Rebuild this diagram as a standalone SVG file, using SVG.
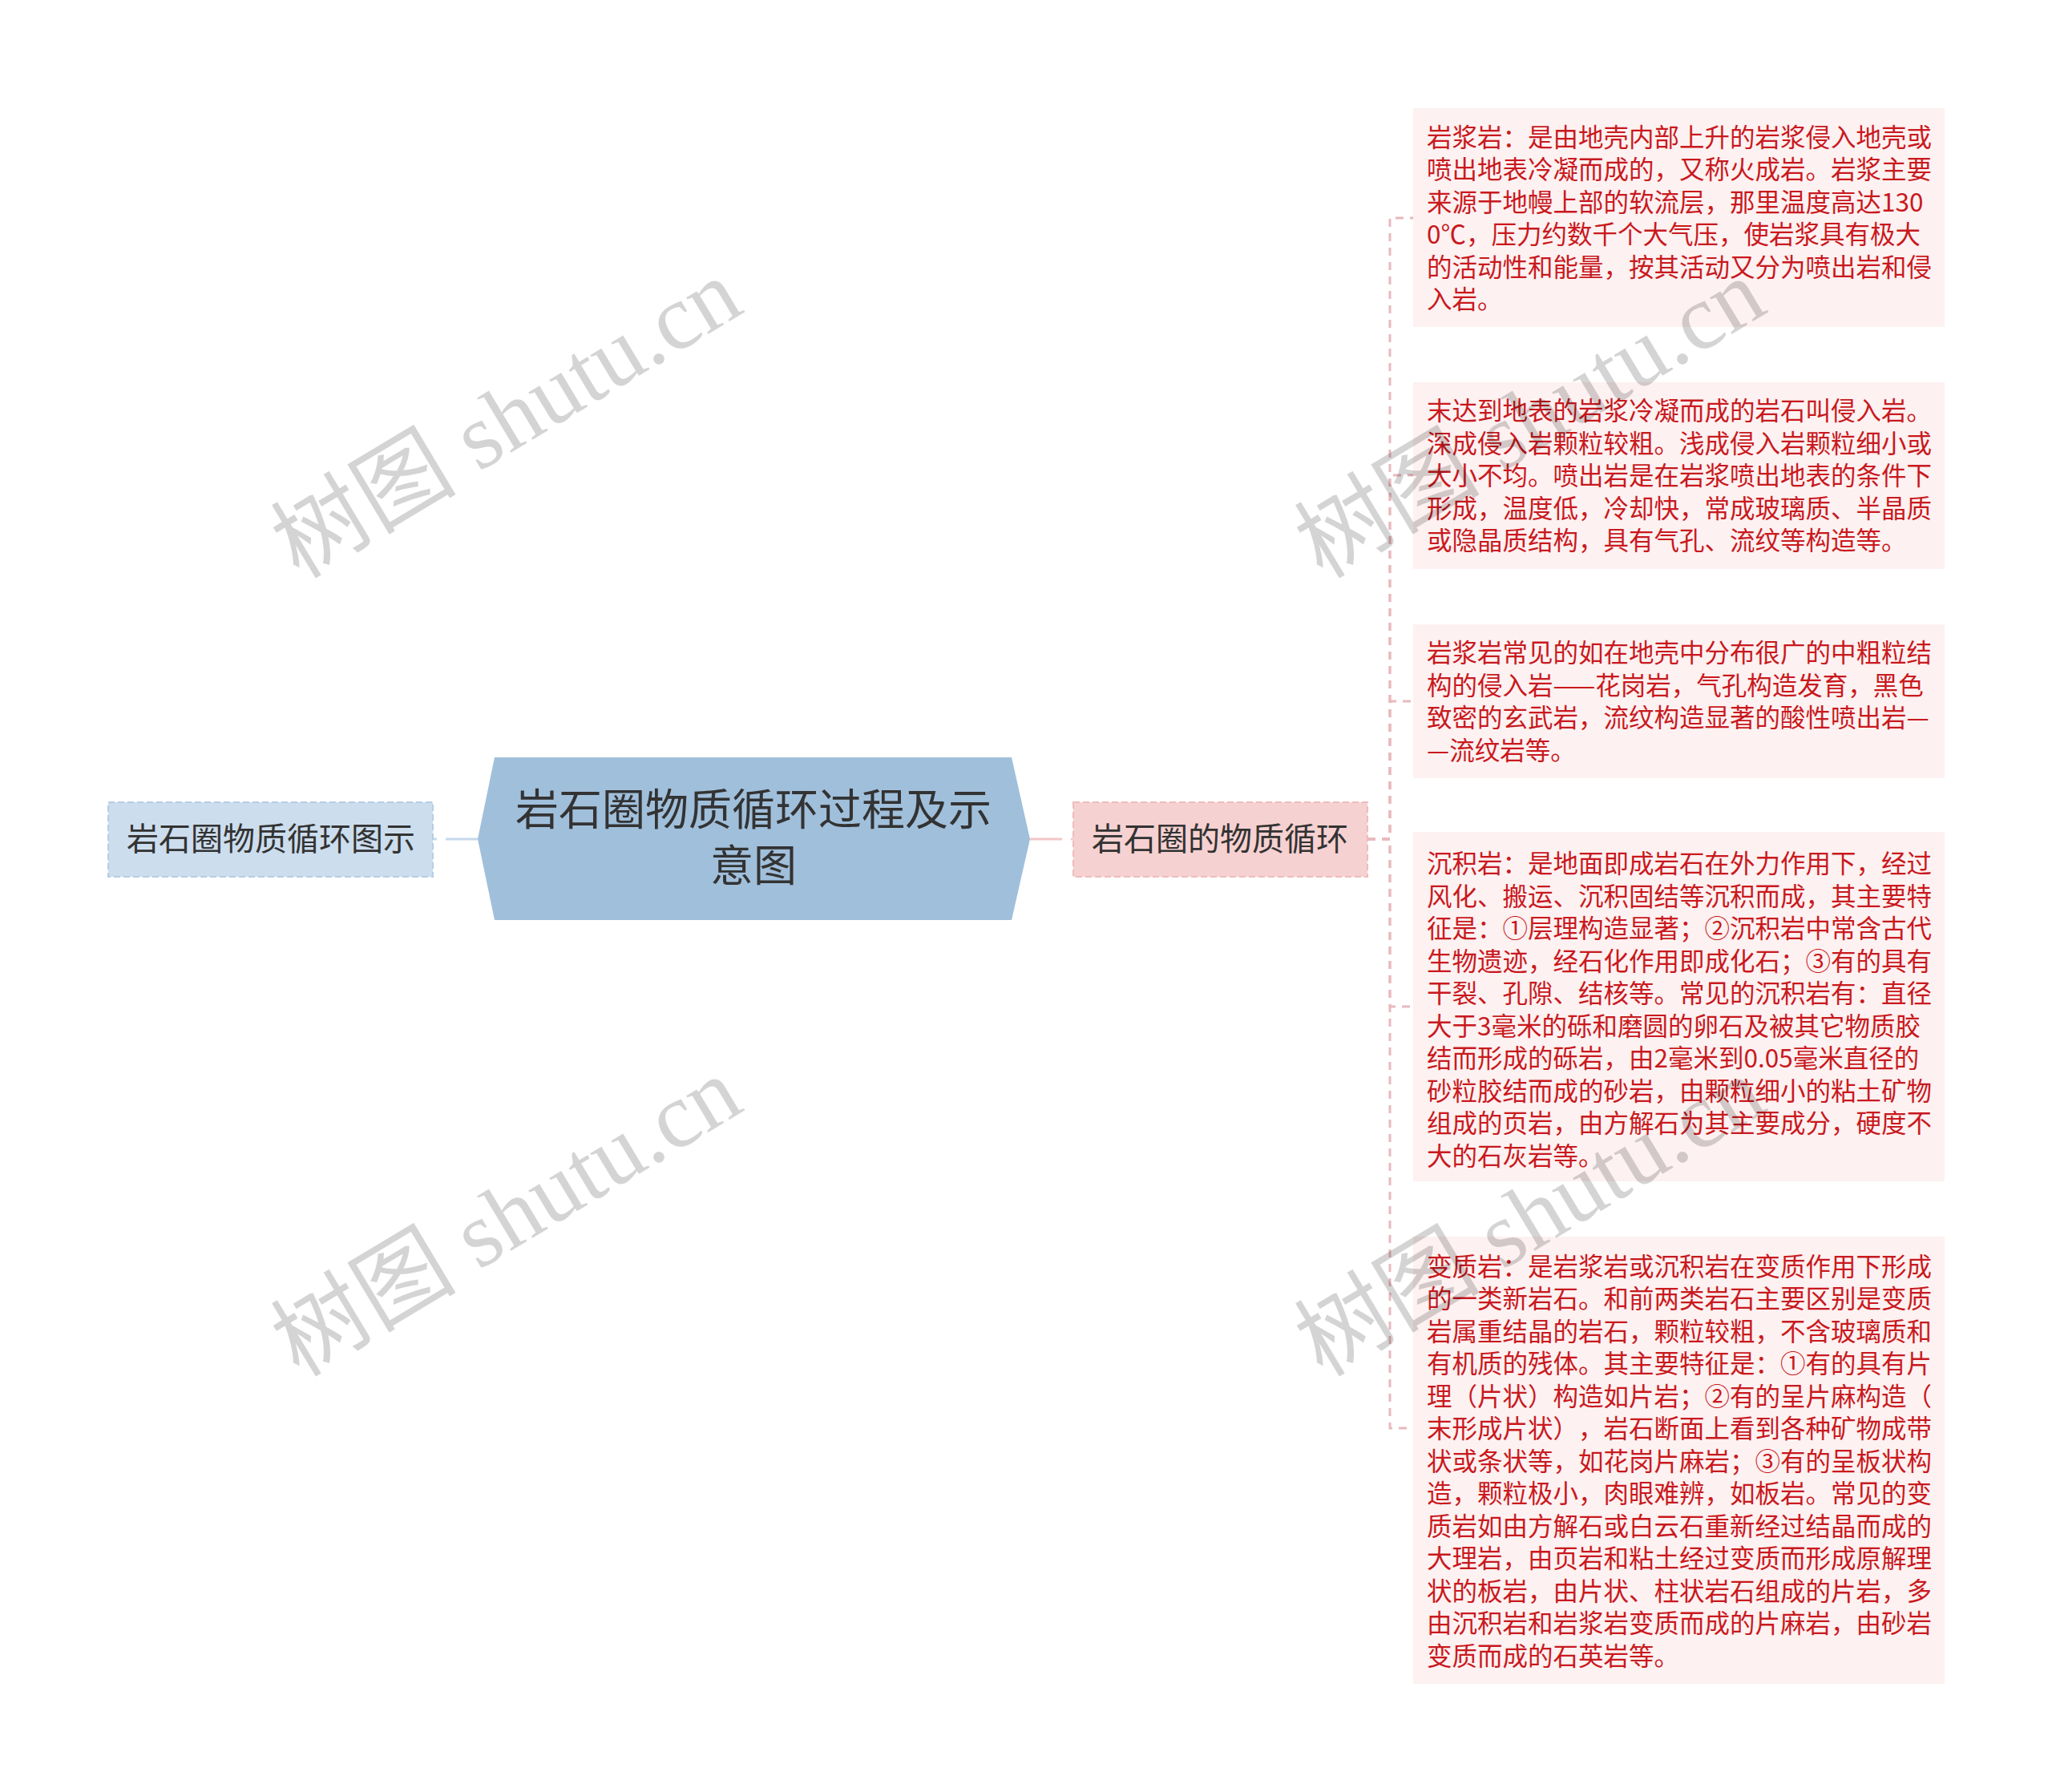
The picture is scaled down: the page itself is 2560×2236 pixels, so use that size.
<svg xmlns="http://www.w3.org/2000/svg" width="2560" height="2236" viewBox="0 0 2560 2236">
<style>
.cjk{font-family:"Noto Sans CJK SC","Noto Sans",sans-serif;text-spacing-trim:space-all;}
.leaf rect{fill:#fdf1f1;}
.leaf text{font-size:31.5px;fill:#c9191e;}
.wm{font-family:"Liberation Serif","Noto Sans CJK SC",serif;font-size:116px;fill:#000;fill-opacity:0.17;}
.conn{fill:none;stroke-width:3;}
</style>
<rect width="2560" height="2236" fill="#ffffff"/>
<g id="connectors">
<path class="conn" d="M596,1047 H540" stroke="#c6d9eb" stroke-width="4" stroke-dasharray="40 11"/>
<path class="conn" d="M1285,1047 H1339" stroke="#f3c6c6" stroke-width="4" stroke-dasharray="40 11"/>
<g stroke="#e9b9bd" stroke-dasharray="10 8">
<path class="conn" d="M1706,1047 H1734 V272 H1763"/>
<path class="conn" d="M1706,1047 H1734 V593 H1763"/>
<path class="conn" d="M1706,1047 H1734 V875 H1763"/>
<path class="conn" d="M1706,1047 H1734 V1256 H1763"/>
<path class="conn" d="M1706,1047 H1734 V1782 H1763"/>
</g>
</g>
<g id="center">
<polygon points="617,945 1262,945 1285,1047 1262,1148 617,1148 596,1047" fill="#a0bfdb"/>
<text class="cjk" x="940" y="1030" font-size="54" fill="#333333" text-anchor="middle">岩石圈物质循环过程及示</text>
<text class="cjk" x="940" y="1100" font-size="54" fill="#333333" text-anchor="middle">意图</text>
</g>
<g id="left-node">
<rect x="135" y="1001" width="405" height="93" fill="#ccdded" stroke="#b7cde3" stroke-width="2" stroke-dasharray="8 4"/>
<text class="cjk" x="338" y="1061" font-size="40" fill="#333333" text-anchor="middle">岩石圈物质循环图示</text>
</g>
<g id="right-node">
<rect x="1339" y="1001" width="367" height="93" fill="#f6d1d1" stroke="#eebcbc" stroke-width="2" stroke-dasharray="8 4"/>
<text class="cjk" x="1522" y="1061" font-size="40" fill="#333333" text-anchor="middle">岩石圈的物质循环</text>
</g>
<g id="leaf1" class="leaf cjk">
<rect x="1763" y="135" width="663" height="273"/>
<text x="1780" y="182.5">岩浆岩：是由地壳内部上升的岩浆侵入地壳或</text>
<text x="1780" y="223">喷出地表冷凝而成的，又称火成岩。岩浆主要</text>
<text x="1780" y="263.5">来源于地幔上部的软流层，那里温度高达130</text>
<text x="1780" y="304">0℃，压力约数千个大气压，使岩浆具有极大</text>
<text x="1780" y="344.5">的活动性和能量，按其活动又分为喷出岩和侵</text>
<text x="1780" y="385">入岩。</text>
</g>
<g id="leaf2" class="leaf cjk">
<rect x="1763" y="477" width="663" height="233"/>
<text x="1780" y="524">末达到地表的岩浆冷凝而成的岩石叫侵入岩。</text>
<text x="1780" y="564.5">深成侵入岩颗粒较粗。浅成侵入岩颗粒细小或</text>
<text x="1780" y="605">大小不均。喷出岩是在岩浆喷出地表的条件下</text>
<text x="1780" y="645.5">形成，温度低，冷却快，常成玻璃质、半晶质</text>
<text x="1780" y="686">或隐晶质结构，具有气孔、流纹等构造等。</text>
</g>
<g id="leaf3" class="leaf cjk">
<rect x="1763" y="779" width="663" height="192"/>
<text x="1780" y="826">岩浆岩常见的如在地壳中分布很广的中粗粒结</text>
<text x="1780" y="866.5">构的侵入岩——花岗岩，气孔构造发育，黑色</text>
<text x="1780" y="907">致密的玄武岩，流纹构造显著的酸性喷出岩—</text>
<text x="1780" y="947.5">—流纹岩等。</text>
</g>
<g id="leaf4" class="leaf cjk">
<rect x="1763" y="1038" width="663" height="436"/>
<text x="1780" y="1089">沉积岩：是地面即成岩石在外力作用下，经过</text>
<text x="1780" y="1129.5">风化、搬运、沉积固结等沉积而成，其主要特</text>
<text x="1780" y="1170">征是：①层理构造显著；②沉积岩中常含古代</text>
<text x="1780" y="1210.5">生物遗迹，经石化作用即成化石；③有的具有</text>
<text x="1780" y="1251">干裂、孔隙、结核等。常见的沉积岩有：直径</text>
<text x="1780" y="1291.5">大于3毫米的砾和磨圆的卵石及被其它物质胶</text>
<text x="1780" y="1332">结而形成的砾岩，由2毫米到0.05毫米直径的</text>
<text x="1780" y="1372.5">砂粒胶结而成的砂岩，由颗粒细小的粘土矿物</text>
<text x="1780" y="1413">组成的页岩，由方解石为其主要成分，硬度不</text>
<text x="1780" y="1453.5">大的石灰岩等。</text>
</g>
<g id="leaf5" class="leaf cjk">
<rect x="1763" y="1543" width="663" height="558"/>
<text x="1780" y="1591.5">变质岩：是岩浆岩或沉积岩在变质作用下形成</text>
<text x="1780" y="1632">的一类新岩石。和前两类岩石主要区别是变质</text>
<text x="1780" y="1672.5">岩属重结晶的岩石，颗粒较粗，不含玻璃质和</text>
<text x="1780" y="1713">有机质的残体。其主要特征是：①有的具有片</text>
<text x="1780" y="1753.5">理（片状）构造如片岩；②有的呈片麻构造（</text>
<text x="1780" y="1794">末形成片状），岩石断面上看到各种矿物成带</text>
<text x="1780" y="1834.5">状或条状等，如花岗片麻岩；③有的呈板状构</text>
<text x="1780" y="1875">造，颗粒极小，肉眼难辨，如板岩。常见的变</text>
<text x="1780" y="1915.5">质岩如由方解石或白云石重新经过结晶而成的</text>
<text x="1780" y="1956">大理岩，由页岩和粘土经过变质而形成原解理</text>
<text x="1780" y="1996.5">状的板岩，由片状、柱状岩石组成的片岩，多</text>
<text x="1780" y="2037">由沉积岩和岩浆岩变质而成的片麻岩，由砂岩</text>
<text x="1780" y="2077.5">变质而成的石英岩等。</text>
</g>
<g id="watermarks">
<text class="wm" text-anchor="middle" transform="translate(652,556) rotate(-31)">树图 shutu.cn</text>
<text class="wm" text-anchor="middle" transform="translate(1929,556) rotate(-31)">树图 shutu.cn</text>
<text class="wm" text-anchor="middle" transform="translate(652,1552) rotate(-31)">树图 shutu.cn</text>
<text class="wm" text-anchor="middle" transform="translate(1929,1552) rotate(-31)">树图 shutu.cn</text>
</g>
</svg>
